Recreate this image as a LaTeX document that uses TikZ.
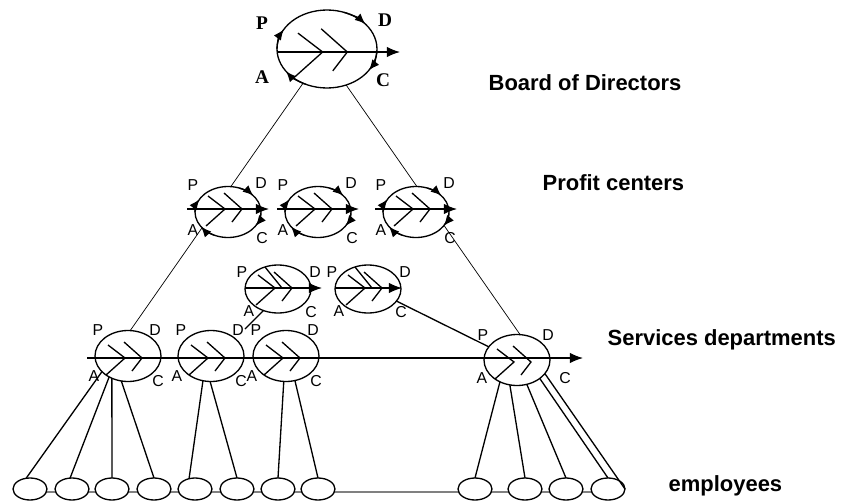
\documentclass[tikz,border=0pt]{standalone}
\usepackage{fontspec}
\setmainfont{Liberation Sans}
\newfontfamily\serifletters{Liberation Serif}
\usetikzlibrary{shapes.geometric,arrows.meta,calc,backgrounds}

\tikzset{
  unit/.style={ellipse, draw, fill=white, inner sep=0pt, outer sep=0pt},
  bigunit/.style={unit, minimum width=2cm, minimum height=1.56cm},
  smallunit/.style={unit, minimum width=1.32cm, minimum height=1.02cm},
  emp/.style={unit, minimum width=0.68cm, minimum height=0.44cm},
  axis/.style={-{Latex[length=7.5pt,width=6pt]}},
  cycletip/.style={-{Latex[length=6pt,width=5pt]}},
  thread/.style={draw=gray, line width=1.6pt},
  tag/.style={inner sep=0pt, font=\fontsize{9}{10}\selectfont},
  bigtag/.style={inner sep=0pt, font=\serifletters\bfseries\fontsize{11}{12}\selectfont},
  title/.style={anchor=west, inner sep=0pt, font=\bfseries\fontsize{12.5}{15}\selectfont},
  bones/.pic={
    \draw (-20,-13) -- (-3,0) -- (-22,17);
    \draw (-4,-16) -- (14,0) -- (4,13);
  }
}

% four arrow tips running round a unit: P -> D -> C -> A
\newcommand\pdcaturn[3]{%
  \foreach \a in {-150,-40,33,145}
    \draw[cycletip] ($(#1)+(\a-30:#2 and #3)$) arc[start angle=\a-30, end angle=\a, x radius=#2, y radius=#3];
}

\begin{document}
\begin{tikzpicture}[x=0.02cm, y=-0.02cm, line width=0.75pt]
\useasboundingbox (0,0) rectangle (850,501);

% units
\node[bigunit] (bod) at (327,49) {};
\foreach \n/\x in {pc1/228, pc2/318, pc3/416}
  \node[smallunit] (\n) at (\x,212) {};
\node[smallunit, minimum height=0.96cm] (ma) at (278,289) {};
\node[smallunit, minimum height=0.96cm] (mb) at (368,289) {};
\foreach \n/\x in {sd1/128, sd2/211, sd3/286}
  \node[smallunit] (\n) at (\x,356) {};
\node[smallunit] (sd4) at (517,360) {};
\foreach \x [count=\i] in {30,72,112,154,195,237,278,318,475,525,566,608}
  \node[emp] (e\i) at (\x,489) {};

% lines running behind the units
\begin{scope}[on background layer]
  \draw (bod.235) -- (sd1.85);
  \draw (bod.298) -- (sd4.83);
  \draw[thread] ($(e1)+(0,3)$) -- ($(e12)+(0,3)$);
\end{scope}

\coordinate (gap) at (245,329);
\draw (ma.236) -- (gap);
\draw (mb.337) -- (sd4.155);

% services down to employees
\draw (sd1.211) -- (e1.110);
\draw (sd1.228) -- (e2.100);
\draw (sd1.234) -- (e3.north);
\draw (sd1.255) -- (e4.north);
\draw (sd2.252) -- (e5.120);
\draw (sd2.268) -- (e6.north);
\draw (sd3.265) -- (e7.north);
\draw (sd3.290) -- (e8.north);
\draw (sd4.232) -- (e9.north);
\draw (sd4.254) -- (e10.north);
\draw (sd4.292) -- (e11.north);
\draw (sd4.321) -- (e12.north);
\draw (sd4.334) -- (e12.east);

% axes and bones
\draw[axis] ($(bod.west)+(0,3)$) -- ($(bod.east)+(23,3)$);
\pic[scale=1.45] at ($(bod)+(0,3)$) {bones};
\foreach \n in {pc1,pc2,pc3} {
  \draw[axis] ($(\n.west)+(-8,-3)$) -- ($(\n.east)+(8,-3)$);
  \pic at ($(\n)+(0,-3)$) {bones};
}
\draw[axis] ($(ma.west)+(0,-1)$) -- ($(ma.east)+(11,-1)$);
\draw[axis] ($(mb.west)+(0,-1)$) -- ($(mb.east)+(1,-1)$);
\foreach \n in {ma,mb} {
  \pic at ($(\n)+(0,-1)$) {bones};
  \draw ($(\n)+(-13,-22)$) -- ($(\n)+(4,-1)$);
}
\draw[axis] ($(sd1.west)+(-8,2)$) -- ($(sd4.east)+(33,-2)$);
\foreach \n in {sd1,sd2,sd3,sd4}
  \pic at ($(\n)+(0,2)$) {bones};

% cycle arrows
\pdcaturn{bod}{50}{39}
\foreach \n in {pc1,pc2,pc3} {\pdcaturn{\n}{33}{25.5}}

% letters
\foreach \t/\dx/\dy in {P/-65/-26, D/58/-29, A/-65/28, C/56/31}
  \node[bigtag] (bod-\t) at ($(bod)+(\dx,\dy)$) {\t};
\foreach \n in {pc1,pc2,pc3}
  \foreach \t/\dx/\dy in {P/-35/-27, D/33/-29, A/-35/18, C/34/26}
    \node[tag] (\n-\t) at ($(\n)+(\dx,\dy)$) {\t};
\foreach \n in {ma,mb}
  \foreach \t/\dx/\dy in {P/-36/-17, D/37/-17, A/-29/22, C/33/23}
    \node[tag] (\n-\t) at ($(\n)+(\dx,\dy)$) {\t};
\foreach \n in {sd1,sd2,sd3}
  \foreach \t/\dx/\dy in {P/-30/-26, D/27/-26, A/-34/20, C/30/25}
    \node[tag] (\n-\t) at ($(\n)+(\dx,\dy)$) {\t};
\foreach \t/\dx/\dy in {P/-34/-25, D/31/-25, A/-35/18, C/48/18}
  \node[tag] (sd4-\t) at ($(sd4)+(\dx,\dy)$) {\t};

% level names
\node[title] (board) at (488,83) {Board of Directors};
\node[title] (profit) at (542,183) {Profit centers};
\node[title] (services) at (607,340) {Services departments};
\node[title] (staff) at (668,486) {employees};
\end{tikzpicture}
\end{document}
